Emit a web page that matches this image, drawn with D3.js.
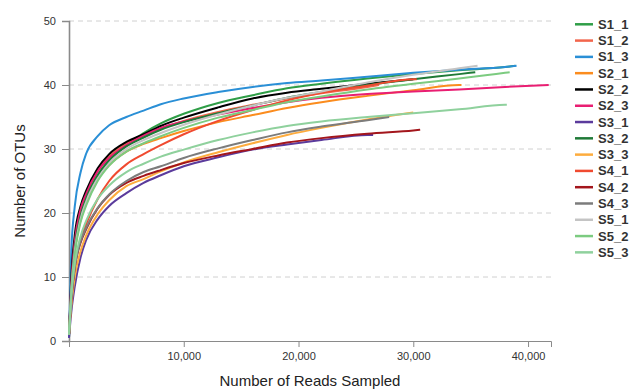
<!DOCTYPE html>
<html>
<head>
<meta charset="utf-8">
<script src="https://cdn.jsdelivr.net/npm/d3@7"></script>
<style>
  body { margin: 0; background: #fff; }
  svg { font-family: "Liberation Sans", Arial, sans-serif; }
</style>
</head>
<body>
<svg width="629" height="390"></svg>
<script>
// sampling depths shared by every curve (each curve stops at its own end depth)
const depths = [0, 200, 500, 1000, 1500, 2500, 3500, 5000, 6500, 8000, 10000, 13000, 16000, 19000, 22000, 26000, 30000, 34000, 38000]

const samples = ["S1_1", "S1_2", "S1_3", "S2_1", "S2_2", "S2_3", "S3_1", "S3_2", "S3_3", "S4_1", "S4_2", "S4_3", "S5_1", "S5_2", "S5_3"]
const colors = ["#2f9e47", "#f2654c", "#2a8fd6", "#fb8c1e", "#000000", "#e91e72", "#5b3b9c", "#1f7a37",
  "#fdac3e", "#f04a30", "#a3161c", "#7c7c7c", "#c4c4c4", "#7ccb80", "#8fd19d"]

const endDepths = [38900, 27000, 39000, 34200, 30000, 41800, 26500, 35400, 30000, 30300, 30600, 27900, 35600, 38400, 38150]

// OTU counts at depths[i] below the end depth, last value is at the end depth
const otuValues = [
  [0.5, 8, 14, 19, 22, 25.8, 28.2, 30.6, 32.5, 34.0, 35.5, 37.2, 38.4, 39.5, 40.2, 41.0, 41.7, 42.3, 42.8, 43.0],
  [1, 9, 15.5, 20.3, 23.0, 26.6, 28.8, 30.9, 32.2, 33.2, 34.4, 35.8, 36.9, 37.9, 38.7, 39.7, 40.0],
  [0.5, 14, 21, 26.3, 29.3, 32.0, 33.7, 35.0, 36.0, 37.0, 37.9, 38.9, 39.7, 40.3, 40.7, 41.3, 41.9, 42.4, 42.8, 43.0],
  [1, 8, 14, 18.8, 21.5, 25.2, 27.5, 29.6, 30.8, 31.7, 32.8, 34.2, 35.3, 36.4, 37.3, 38.3, 39.2, 40.0],
  [1, 10, 16.5, 21.0, 23.5, 27.0, 29.2, 31.1, 32.3, 33.6, 34.9, 36.5, 37.9, 38.8, 39.4, 40.2, 40.9],
  [1, 9, 15.5, 20.5, 23, 26.5, 28.6, 30.6, 32.1, 33.3, 34.3, 35.4, 36.4, 37.3, 38.0, 38.6, 39.0, 39.3, 39.7, 40.0],
  [0.5, 4.5, 8.5, 13, 15.8, 19.0, 21.1, 23.1, 24.7, 25.9, 27.3, 28.7, 29.9, 30.7, 31.4, 32.2],
  [1, 8, 14.5, 19.5, 22.3, 25.9, 28.2, 30.4, 31.8, 33.0, 34.2, 35.6, 36.8, 38.0, 38.9, 40.0, 40.9, 41.7, 42.0],
  [1, 5.5, 10, 14, 16.5, 19.8, 22.0, 24.2, 25.3, 26.5, 27.9, 29.5, 30.9, 32.2, 33.3, 34.6, 35.7],
  [1, 6.5, 11.5, 15.8, 18.3, 22.2, 25.0, 27.6, 29.2, 30.6, 32.3, 34.4, 36.1, 37.6, 38.8, 39.9, 40.9],
  [1, 6.5, 11.5, 15.3, 17.5, 20.7, 22.8, 24.7, 25.8, 26.7, 27.8, 29.0, 30.0, 31.0, 31.7, 32.4, 32.9, 33.0],
  [1, 6.5, 11.5, 15.5, 17.7, 20.8, 22.9, 25.0, 26.4, 27.3, 28.6, 30.1, 31.4, 32.6, 33.5, 34.5, 35.0],
  [1, 8, 14, 19, 21.8, 25.4, 27.8, 30.0, 31.4, 32.5, 33.8, 35.4, 36.8, 38.0, 39.0, 40.4, 41.6, 42.6, 43.0],
  [1, 7.5, 13.5, 18.5, 21.2, 25.0, 27.4, 29.6, 30.9, 32.0, 33.3, 34.9, 36.1, 37.3, 38.2, 39.3, 40.2, 41.0, 41.9, 42.0],
  [1, 7, 12, 16.3, 18.8, 22.2, 24.3, 26.4, 27.7, 28.8, 29.9, 31.4, 32.6, 33.6, 34.3, 35.0, 35.6, 36.2, 36.9]
]

const xTicks = [10000, 20000, 30000, 40000]
const yTicks = [0, 10, 20, 30, 40, 50]

const width = 629,
  height = 390,
  margin = { top: 21, right: 78, bottom: 49, left: 69 }

const svg = d3.select("svg")

const x = d3.scaleLinear().domain([0, 42000]).range([margin.left, width - margin.right])
const y = d3.scaleLinear().domain([0, 50]).range([height - margin.bottom, margin.top])

const series = samples.map((name, i) => {
  const pts = depths.filter(d => d < endDepths[i]).map((d, j) => [d, otuValues[i][j]])
  pts.push([endDepths[i], otuValues[i][otuValues[i].length - 1]])
  return { name, color: colors[i], pts }
})

// dashed grid
svg.append("g")
  .selectAll("line")
  .data(yTicks.filter(t => t > 0))
  .enter()
  .append("line")
  .attr("x1", x(0))
  .attr("x2", x(42000))
  .attr("y1", d => y(d))
  .attr("y2", d => y(d))
  .attr("stroke", "#d0d0d0")
  .attr("stroke-dasharray", "5,4")

const xAxis = svg.append("g")
  .attr("transform", `translate(0,${y(0)})`)
  .call(d3.axisBottom(x).tickValues(xTicks).tickFormat(d3.format(",")).tickSize(6).tickPadding(5))
xAxis.select(".domain").attr("stroke", "#8a8a8a")
xAxis.selectAll(".tick line").attr("stroke", "#8a8a8a")
xAxis.selectAll("text").attr("fill", "#333").style("font-size", "11px")

const yAxis = svg.append("g")
  .attr("transform", `translate(${x(0)},0)`)
  .call(d3.axisLeft(y).tickValues(yTicks).tickSize(7).tickPadding(6))
yAxis.select(".domain").attr("stroke", "#8a8a8a").attr("stroke-width", 1.6)
yAxis.selectAll(".tick line").attr("stroke", "#8a8a8a")
yAxis.selectAll("text").attr("fill", "#333").style("font-size", "11px")

const line = d3.line()
  .x(d => x(d[0]))
  .y(d => y(d[1]))
  .curve(d3.curveMonotoneX)

svg.append("g")
  .selectAll("path")
  .data(series)
  .enter()
  .append("path")
  .attr("d", d => line(d.pts))
  .attr("fill", "none")
  .attr("stroke", d => d.color)
  .attr("stroke-width", 2)

// axis titles
svg.append("text")
  .attr("x", (x(0) + x(42000)) / 2)
  .attr("y", 386)
  .attr("text-anchor", "middle")
  .style("font-size", "15px")
  .attr("fill", "#222")
  .text("Number of Reads Sampled")

svg.append("text")
  .attr("transform", `translate(25,${(y(0) + y(50)) / 2}) rotate(-90)`)
  .attr("text-anchor", "middle")
  .style("font-size", "15px")
  .attr("fill", "#222")
  .text("Number of OTUs")

// legend
const legend = svg.append("g")
  .selectAll("g")
  .data(series)
  .enter()
  .append("g")
  .attr("transform", (d, i) => `translate(575,${24.3 + i * 16.29})`)

legend.append("line")
  .attr("x1", 0)
  .attr("x2", 18)
  .attr("stroke", d => d.color)
  .attr("stroke-width", 2.5)

legend.append("text")
  .attr("x", 23)
  .attr("dy", "0.35em")
  .style("font-size", "13px")
  .style("font-weight", "bold")
  .attr("fill", "#333")
  .text(d => d.name)
</script>
</body>
</html>
